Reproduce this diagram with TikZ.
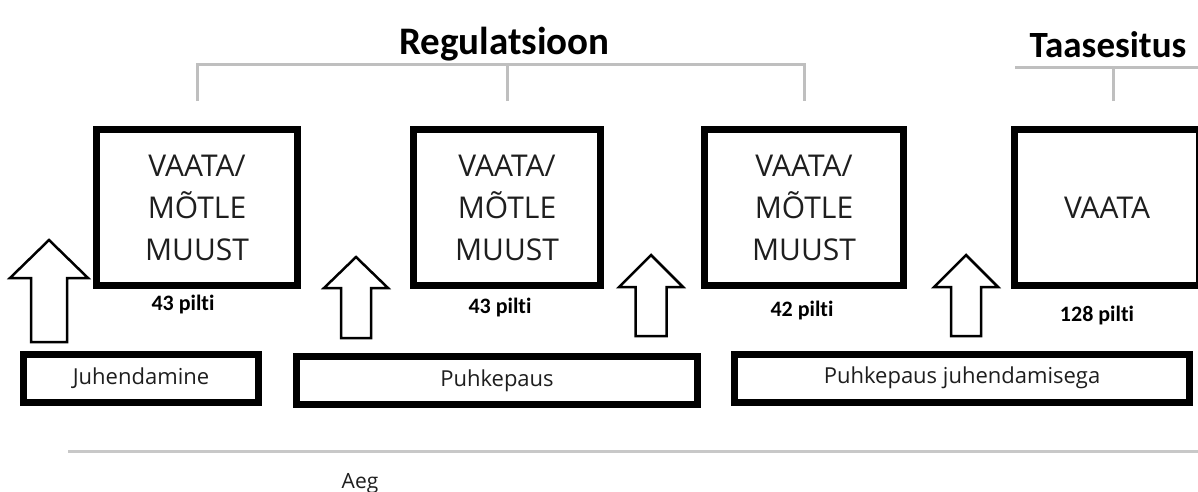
\documentclass[tikz,border=0pt]{standalone}
\usepackage{fontspec}
\setmainfont{Open Sans}
\newfontfamily\calfont[Ligatures=NoCommon]{Carlito}
\usetikzlibrary{calc,positioning}

\definecolor{brgray}{RGB}{191,191,191}
\definecolor{tlgray}{RGB}{200,200,200}
\definecolor{txtgray}{RGB}{30,30,30}

\tikzset{
	bigbox/.style={draw, line width=7pt, minimum height=156pt, inner sep=0pt,
		align=center, text=txtgray, font=\fontsize{30}{42}\selectfont},
	barbox/.style={draw, line width=7pt, minimum height=48pt, inner sep=0pt,
		text=txtgray, font=\fontsize{22}{26}\selectfont},
	piltlabel/.style={anchor=base, font=\calfont\bfseries\fontsize{22}{26}\selectfont},
	heading/.style={anchor=base, font=\calfont\bfseries\fontsize{39}{46}\selectfont},
	grouping/.style={brgray, line width=3pt},
	blockarrow/.style={draw, line width=2.5pt, fill=white, line join=miter},
}

\begin{document}
\begin{tikzpicture}[x=1pt,y=-1pt]
	\useasboundingbox (0,0) rectangle (1198,491);
	
	%big boxes
	\node[bigbox, minimum width=201pt] (w1) at (197,207.5) {VAATA/\\MÕTLE\\MUUST};
	\node[bigbox, minimum width=187pt] (w2) at (507,207.5) {VAATA/\\MÕTLE\\MUUST};
	\node[bigbox, minimum width=199pt] (w3) at (804,207.5) {VAATA/\\MÕTLE\\MUUST};
	\node[bigbox, minimum width=185pt] (w4) at (1107,207.5) {VAATA};
	
	%picture counts
	\node[piltlabel] (n1) at (183,310) {43 pilti};
	\node[piltlabel] (n2) at (500,313) {43 pilti};
	\node[piltlabel] (n3) at (802,316) {42 pilti};
	\node[piltlabel] (n4) at (1097,321) {128 pilti};
	
	%bottom boxes
	\node[barbox, minimum width=235pt] (jh) at (141,378.5) {Juhendamine};
	\node[barbox, minimum width=401pt] (pp) at (497,380.5) {Puhkepaus};
	\node[barbox, minimum width=455pt] (pj) at (962,378) {Puhkepaus juhendamisega};
	
	%block arrows
	\foreach \c/\t/\b/\h/\s/\hh in {49/240/342/39/18/38, 356/257/338/32/15/31,
		651/255/336/32/15.5/32, 966/255/336/32/15/32}
	\draw[blockarrow] (\c,\t) -- (\c+\h,\t+\hh) -- (\c+\s,\t+\hh) -- (\c+\s,\b)
		-- (\c-\s,\b) -- (\c-\s,\t+\hh) -- (\c-\h,\t+\hh) -- cycle;
	
	%headings and brackets
	\node[heading] (reg) at (504.5,54) {Regulatsioon};
	\node[heading, font=\calfont\bfseries\fontsize{37}{44}\selectfont] (taas) at (1108,57) {Taasesitus};
	\coordinate (b1) at ([yshift=25pt]w1.north);
	\coordinate (b3) at ([yshift=25pt]w3.north);
	\draw[grouping] (b1) -- ++(0,-37) -| (b3);
	\draw[grouping] ([yshift=25pt]w2.north) -- ++(0,-37);
	\coordinate (b4) at ([xshift=6pt,yshift=25pt]w4.north);
	\coordinate (r0) at (1015,67);
	\coordinate (r1) at (1198,67);
	\draw[grouping] (r0) -- (r1);
	\draw[grouping] (b4) -- (b4 |- r0);
	
	%time line
	\coordinate (t0) at (68,451);
	\coordinate (t1) at (1198,451);
	\draw[tlgray, line width=3pt] (t0) -- (t1);
	\node[anchor=base, font=\fontsize{21}{25}\selectfont, text=txtgray] (aeg) at (360,488) {Aeg};
\end{tikzpicture}
\end{document}
